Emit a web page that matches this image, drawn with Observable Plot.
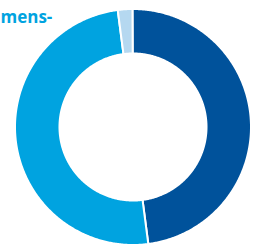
<!DOCTYPE html>
<html>
<head>
<meta charset="utf-8">
<script src="https://cdn.jsdelivr.net/npm/d3@7"></script>
<script src="https://cdn.jsdelivr.net/npm/@observablehq/plot@0.6"></script>
<style>
  html, body { margin: 0; padding: 0; background: #ffffff; overflow: hidden; }
  #chart { width: 253px; height: 247px; }
</style>
</head>
<body>
<div id="chart"></div>
<script>
// Data
const categories = ["Segment A", "Segment B", "Segment C"];
const values = [48, 50, 2];
const colors = ["#00529b", "#00a3e0", "#b5d8f0"];
const titleText = ["mens-"];

// Build donut slice polygons (unit radii, angle clockwise from top)
const startDeg = -0.25;
const innerRatio = 0.623;
const total = d3.sum(values);
const ends = d3.cumsum(values);
const points = [];
categories.forEach((cat, i) => {
  const a0 = startDeg + (i === 0 ? 0 : ends[i - 1]) / total * 360;
  const a1 = startDeg + ends[i] / total * 360;
  const n = Math.max(2, Math.ceil((a1 - a0) / 0.5));
  const outer = d3.range(n + 1).map(k => a0 + (a1 - a0) * k / n);
  for (const a of outer) {
    const t = a * Math.PI / 180;
    points.push({cat, x: Math.sin(t), y: Math.cos(t)});
  }
  for (const a of outer.slice().reverse()) {
    const t = a * Math.PI / 180;
    points.push({cat, x: innerRatio * Math.sin(t), y: innerRatio * Math.cos(t)});
  }
});

const chart = Plot.plot({
  width: 253,
  height: 247,
  margin: 0,
  style: {background: "#ffffff", overflow: "visible"},
  x: {domain: [-1.1229, 1.0212], axis: null},
  y: {domain: [-1.0212, 1.0720], axis: null},
  color: {domain: categories, range: colors},
  marks: [
    Plot.line(points, {
      x: "x", y: "y", z: "cat", fill: "cat",
      stroke: "#ffffff", strokeWidth: 2, curve: "linear-closed"
    }),
    Plot.text(titleText, {
      text: d => d,
      frameAnchor: "top-left",
      dx: 0, dy: 22,
      lineAnchor: "bottom",
      textAnchor: "start",
      fill: "#00a3e0",
      fontSize: 17,
      fontWeight: "bold",
      fontFamily: "Open Sans"
    })
  ]
});
document.getElementById("chart").appendChild(chart);
</script>
</body>
</html>
